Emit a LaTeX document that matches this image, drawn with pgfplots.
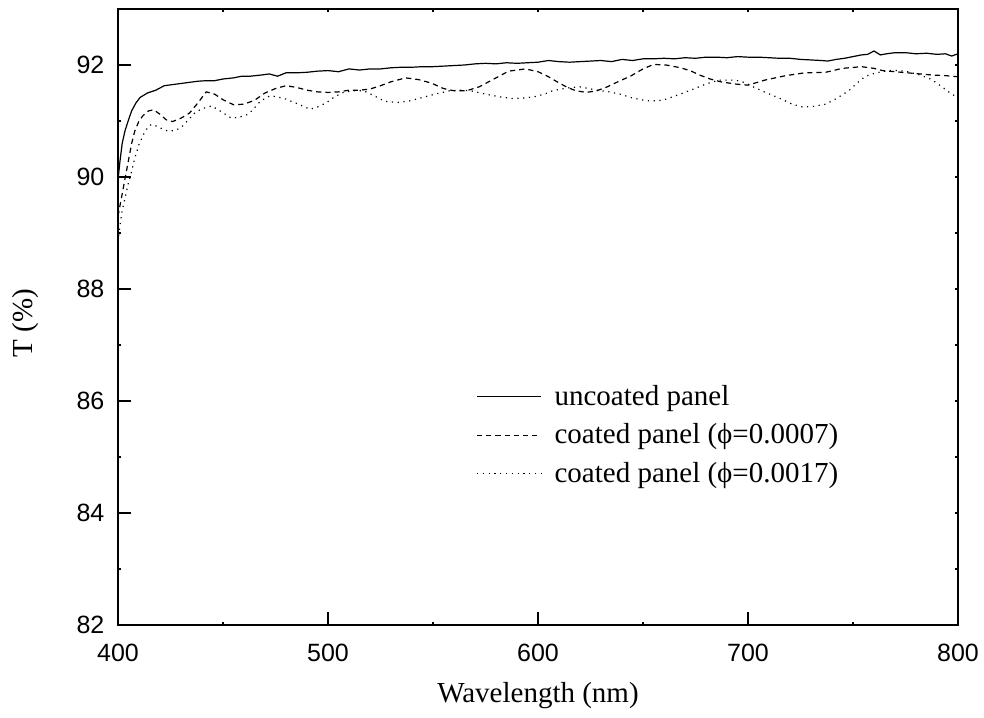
\documentclass[border=0pt]{standalone}
\usepackage{fontspec}
\setmainfont{Liberation Serif}
\newfontfamily\sansf{Liberation Sans}
\usepackage{pgfplots}
\pgfplotsset{compat=1.18}
\begin{document}
\begin{tikzpicture}
\begin{axis}[
  name=ax,
  scale only axis, width=420pt, height=308pt,
  xmin=400, xmax=800, ymin=82, ymax=93,
  xtick={400,500,...,800}, ytick={82,84,...,92},
  minor x tick num=1, minor y tick num=1,
  xtick pos=left, ytick pos=left,
  tick align=inside,
  major tick length=6.5pt, minor tick length=1.6pt,
  every major tick/.style={line width=1pt, black},
  every minor tick/.style={line width=0.6pt, black},
  axis line style={line width=1.25pt},
  /pgf/number format/assume math mode=true,
  tick label style={font=\sansf\fontsize{12.5}{14}\selectfont},
  xticklabel style={yshift=-5.8pt},
  yticklabel style={xshift=-3.3pt},
  xlabel={Wavelength (nm)},
  ylabel={T (\%)},
  label style={font=\fontsize{14.5}{17}\selectfont},
  xlabel style={at={(axis description cs:0.5,-0.081)}, anchor=north},
  ylabel style={at={(axis description cs:-0.0865,0.490)}, anchor=south},
  legend style={draw=none, fill=none, inner sep=0pt, column sep=5.5pt, row sep=3.95pt,
    at={(axis description cs:0.4262,0.3929)}, anchor=north west,
    font=\fontsize{14.5}{17}\selectfont,
    nodes={inner sep=1pt, text height=10pt, text depth=3.3pt}},
  legend cell align=left,
  legend image code/.code={\draw[#1] (0pt,1pt) -- (32pt,1pt);},
]
\addplot[black, line width=0.6pt] coordinates {
(400,89.95) (401,90.3) (402,90.6) (403.3,90.82) (405,91.02) (406.5,91.18) (408.5,91.32) (410.5,91.42) (414,91.5) (418,91.55) (422,91.63) (426,91.65) (430,91.67) (434,91.69) (438,91.71) (442,91.72) (446,91.72) (450,91.75) (455,91.77) (459,91.8) (463,91.8) (468,91.82) (472,91.84) (476,91.80) (480,91.86) (485,91.86) (490,91.87) (495,91.89) (500,91.9) (505,91.88) (510,91.93) (515,91.91) (520,91.93) (525,91.93) (530,91.95) (535,91.96) (540,91.96) (545,91.97) (550,91.97) (555,91.98) (560,91.99) (565,92.0) (570,92.02) (575,92.03) (580,92.02) (585,92.04) (590,92.03) (595,92.04) (600,92.05) (605,92.08) (610,92.06) (615,92.05) (620,92.06) (625,92.07) (630,92.08) (635,92.06) (640,92.1) (645,92.08) (650,92.11) (655,92.11) (660,92.12) (665,92.11) (670,92.13) (675,92.12) (680,92.14) (685,92.14) (690,92.13) (695,92.15) (700,92.14) (705,92.14) (710,92.13) (715,92.12) (720,92.12) (725,92.10) (730,92.09) (735,92.08) (738,92.07) (742,92.1) (746,92.12) (750,92.15) (754,92.18) (757,92.19) (760,92.25) (763,92.18) (766,92.2) (770,92.22) (775,92.22) (780,92.2) (785,92.21) (790,92.19) (794,92.2) (797,92.16) (800,92.2)
};
\addlegendentry{uncoated panel}
\addplot[black, line width=0.6pt, dash pattern=on 2.6pt off 2pt] coordinates {
(400,89.3) (401.5,89.6) (403,89.9) (404.5,90.2) (406.5,90.6) (408,90.82) (410,91.0) (412,91.1) (414.5,91.18) (417,91.2) (420,91.12) (423,91.02) (426,90.99) (430,91.05) (434,91.14) (438,91.32) (442,91.52) (446,91.48) (450,91.38) (455,91.29) (460,91.3) (465,91.37) (470,91.5) (475,91.58) (480,91.63) (485,91.6) (490,91.55) (495,91.52) (500,91.51) (505,91.52) (510,91.55) (515,91.55) (520,91.57) (525,91.63) (530,91.7) (537,91.77) (543,91.74) (549,91.68) (555,91.58) (560,91.54) (566,91.54) (572,91.61) (579,91.75) (586,91.89) (594,91.93) (600,91.88) (605,91.79) (610,91.68) (614,91.6) (618,91.54) (623,91.51) (628,91.54) (633,91.61) (638,91.7) (644,91.8) (650,91.93) (655,92.01) (661,92.0) (668,91.95) (673,91.89) (677,91.82) (682,91.75) (687,91.7) (694,91.66) (700,91.64) (708,91.73) (718,91.81) (727,91.86) (737,91.87) (745,91.94) (754,91.97) (760,91.94) (764,91.9) (770,91.88) (776,91.86) (782,91.84) (788,91.82) (794,91.81) (800,91.79)
};
\addlegendentry{coated panel (ϕ=0.0007)}
\addplot[black, line width=0.6pt, dash pattern=on 0.6pt off 2.3pt] coordinates {
(400,88.85) (401,89.15) (402,89.4) (403.5,89.65) (405,89.9) (406.5,90.1) (408,90.34) (410,90.58) (412,90.75) (414.4,90.9) (416,90.94) (419,90.9) (422,90.84) (424,90.82) (427,90.83) (430,90.88) (433,91.0) (436.7,91.15) (440,91.22) (444.6,91.27) (449,91.17) (454,91.05) (458,91.07) (462,91.12) (464.4,91.21) (468,91.36) (472.4,91.45) (476,91.43) (480,91.39) (486,91.3) (491.4,91.21) (495,91.25) (499.4,91.33) (503,91.43) (507.3,91.51) (512,91.54) (517,91.54) (522,91.45) (527,91.35) (533,91.33) (539,91.36) (545,91.42) (551,91.48) (558,91.54) (563,91.55) (568,91.54) (575,91.48) (582,91.43) (588,91.40) (593,91.41) (598,91.43) (603,91.48) (607,91.54) (614,91.59) (620,91.61) (628,91.55) (634,91.52) (639,91.48) (645,91.41) (652,91.36) (657,91.36) (661,91.39) (667,91.47) (674,91.57) (680,91.66) (686,91.73) (694,91.73) (699,91.68) (703,91.6) (709,91.5) (716,91.39) (721,91.3) (726,91.25) (731,91.26) (737,91.3) (742,91.4) (748,91.54) (752,91.68) (756,91.80) (761,91.86) (767,91.9) (772,91.9) (776,91.88) (782,91.82) (787.5,91.74) (792,91.62) (797,91.48) (800,91.42)
};
\addlegendentry{coated panel (ϕ=0.0017)}
\end{axis}
\begin{axis}[
  scale only axis, width=420pt, height=308pt,
  xmin=400, xmax=800, ymin=82, ymax=93,
  xtick={400,450,...,800}, ytick={82,83,...,93},
  xtick pos=right, ytick pos=right,
  tick align=inside, major tick length=1.6pt,
  every major tick/.style={line width=0.6pt, black},
  xticklabels={}, yticklabels={},
  axis line style={line width=1.25pt},
]
\end{axis}
\pgfresetboundingbox
\path[use as bounding box] ([shift={(-59pt,-46pt)}]ax.south west) rectangle ([shift={(13pt,4.5pt)}]ax.north east);
\end{tikzpicture}
\end{document}
